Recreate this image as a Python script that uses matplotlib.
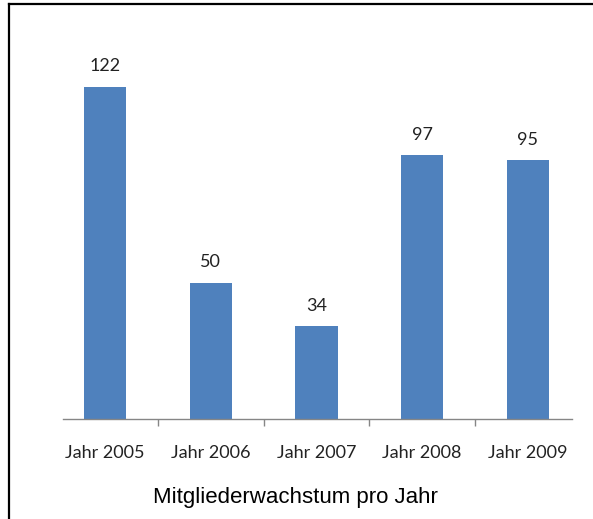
import matplotlib
matplotlib.use("Agg")
import matplotlib.pyplot as plt
from matplotlib.lines import Line2D

years = ["Jahr 2005", "Jahr 2006", "Jahr 2007", "Jahr 2008", "Jahr 2009"]
growth = [122, 50, 34, 97, 95]

W, H = 593, 519
fig = plt.figure(figsize=(W / 100, H / 100), dpi=100)
fig.patch.set_facecolor("white")

# axes placed in pixel terms: axis line from x=63 to 572 at y=419
ax = fig.add_axes([63 / W, (H - 419) / H, (572 - 63) / W, 381 / H])

x = list(range(len(years)))
ax.bar(x, growth, width=0.40, color="#4F81BD", zorder=2)

for xi, v in zip(x, growth):
    ax.annotate(str(v), (xi, v), xytext=(0, 9), textcoords="offset points",
                ha="center", va="bottom", fontsize=13, family="Lato", color="#222222")

ax.set_xlim(-0.40, 4.42)
ax.set_ylim(0, 140)

for s in ["top", "right", "left"]:
    ax.spines[s].set_visible(False)
ax.spines["bottom"].set_color("#868686")
ax.spines["bottom"].set_linewidth(1.0)
ax.set_yticks([])

# minor ticks between categories, labels on the majors
ax.set_xticks(x)
ax.set_xticklabels(years, family="Lato", fontsize=13, color="#222222")
ax.tick_params(axis="x", which="major", length=0, pad=19)
ax.set_xticks([0.5, 1.5, 2.5, 3.5], minor=True)
ax.tick_params(axis="x", which="minor", length=5, color="#868686", width=1.0)

fig.text(295 / W, 1 - 497 / H, "Mitgliederwachstum pro Jahr", ha="center", va="center",
         family="Liberation Sans", fontsize=16, color="black")

# frame lines (only left and top are inside the picture)
fig.add_artist(Line2D([9 / W, 9 / W], [0, 1 - 3.5 / H], color="black", lw=1.6, transform=fig.transFigure))
fig.add_artist(Line2D([9 / W, 1], [1 - 3.5 / H, 1 - 3.5 / H], color="black", lw=1.6, transform=fig.transFigure))

fig.savefig("out.png", dpi=100)
